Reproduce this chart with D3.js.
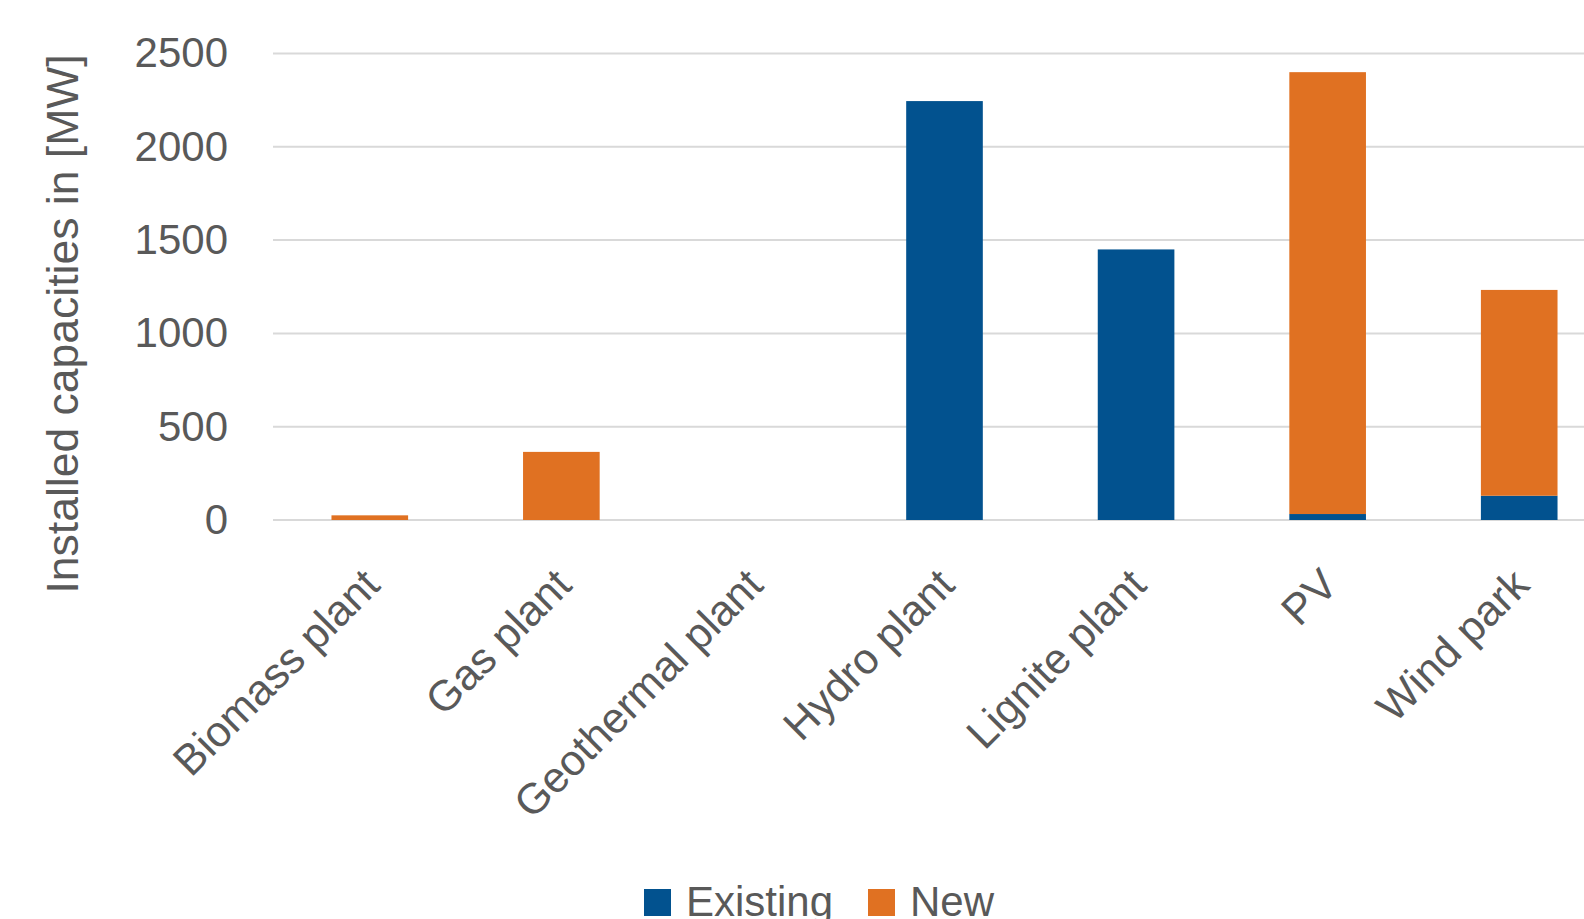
<!DOCTYPE html>
<html><head><meta charset="utf-8">
<script src="https://cdn.jsdelivr.net/npm/d3@7"></script>
<style>body{margin:0;background:#fff;overflow:hidden}svg{display:block}text{font-family:"Liberation Sans",Arial,sans-serif;fill:#595959}</style>
</head><body><svg id="c" width="1584" height="919"></svg>
<script>
const categories = ["Biomass plant","Gas plant","Geothermal plant","Hydro plant","Lignite plant","PV","Wind park"];
const existing = [0, 0, 0, 2245, 1450, 32, 130];
const newCap = [25, 365, 0, 0, 0, 2368, 1103];
const yTicks = [0, 500, 1000, 1500, 2000, 2500];
const seriesNames = ["Existing","New"];
const colors = ["#02528f","#e07122"];

const svg = d3.select("#c");
const x = d3.scaleBand().domain(categories).range([274, 1615]).paddingInner(0.6).paddingOuter(0.3);
const y = d3.scaleLinear().domain([0, 2500]).range([520, 53.5]);

// gridlines
svg.append("g").selectAll("line").data(yTicks).join("line")
  .attr("x1", 273).attr("x2", 1615)
  .attr("y1", d => y(d)).attr("y2", d => y(d))
  .attr("stroke", "#d9d9d9").attr("stroke-width", 2);

const data = categories.map((c, i) => ({cat: c, Existing: existing[i], New: newCap[i]}));
const stack = d3.stack().keys(seriesNames)(data);
svg.append("g").selectAll("g").data(stack).join("g")
  .attr("fill", (d, i) => colors[i])
  .selectAll("rect").data(d => d.filter(v => v[1] - v[0] > 0)).join("rect")
  .attr("x", d => x(d.data.cat)).attr("width", x.bandwidth())
  .attr("y", d => y(d[1])).attr("height", d => y(d[0]) - y(d[1]));

// y axis
const yAxis = d3.axisLeft(y).tickValues(yTicks).tickFormat(d3.format("d")).tickSize(0).tickPadding(0);
const ga = svg.append("g").attr("transform", "translate(228,0)").call(yAxis);
ga.select(".domain").remove();
ga.selectAll("text").attr("font-size", 42).attr("fill", "#595959").style("font-family", '"Liberation Sans",Arial,sans-serif');

// x labels
const xAxis = d3.axisBottom(x).tickSize(0).tickPadding(0);
const gx = svg.append("g").attr("transform", "translate(0,520)").call(xAxis);
gx.select(".domain").remove();
gx.selectAll("text")
  .attr("font-size", 43).attr("fill", "#595959").style("font-family", '"Liberation Sans",Arial,sans-serif')
  .attr("text-anchor", "end")
  .attr("transform", "translate(-9,46) rotate(-45)")
  .attr("y", 0).attr("dy", "0.7em");

// y title
svg.append("text").attr("transform", "translate(78,324) rotate(-90)")
  .attr("text-anchor", "middle").attr("font-size", 44.5)
  .text("Installed capacities in [MW]");

// legend
const leg = svg.append("g");
const legX = [644, 868];
seriesNames.forEach((s, i) => {
  leg.append("rect").attr("x", legX[i]).attr("y", 889).attr("width", 27).attr("height", 27).attr("fill", colors[i]);
  leg.append("text").attr("x", legX[i] + 42).attr("y", 916).attr("font-size", 42).text(s);
});
</script></body></html>
